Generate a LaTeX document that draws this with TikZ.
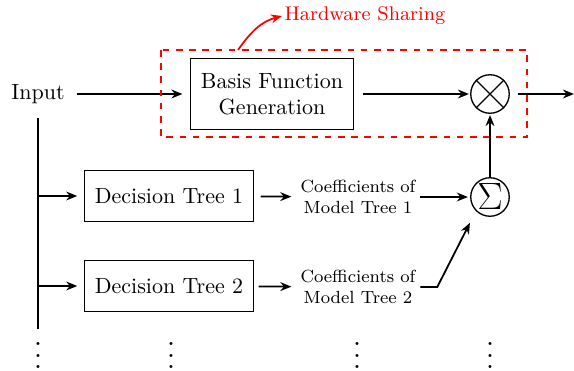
\documentclass[tikz,border=0pt]{standalone}
\usetikzlibrary{arrows.meta,positioning}

\tikzset{
	block/.style={draw, thin, minimum width=77pt, minimum height=23pt, align=center},
	op/.style={draw, semithick, circle, minimum size=17.5pt, inner sep=0pt},
	coef/.style={font=\footnotesize, align=center, inner sep=2pt},
	flow/.style={thick, -{Stealth[length=5pt,width=4pt]}},
}

\begin{document}
\begin{tikzpicture}[x=0.4545pt, y=-0.4545pt]
	\useasboundingbox (0,0) rectangle (574,371);

	% upper path
	\node (in) at (38,94) {Input};
	\node[block, minimum width=74pt, minimum height=32pt] (bfg) at (272,94) {Basis Function\\Generation};
	\node[op] (mul) at (490,94) {};
	\draw[semithick] (mul.north west) -- (mul.south east) (mul.north east) -- (mul.south west);
	\coordinate (out) at (574,94);
	\draw[flow, shorten <=2pt, shorten >=3.5pt] (in) -- (bfg);
	\draw[flow, shorten <=4pt, shorten >=0.5pt] (bfg) -- (mul);
	\draw[flow, shorten <=3.5pt] (mul) -- (out);

	% hardware sharing
	\draw[red, thick, dashed] (161,50) rectangle (527,137);
	\coordinate (hw) at (238,50);
	\node[text=red, font=\small, anchor=west, inner sep=1pt] (hwl) at (282,16) {Hardware Sharing};
	\draw[red, thick, -{Stealth[length=5pt,width=4pt]}] (hw) to[out=55, in=195] (hwl.west);

	% decision trees
	\node[block] (dt1) at (169,196) {Decision Tree 1};
	\node[block] (dt2) at (169,286) {Decision Tree 2};
	\node[coef] (cf1) at (358,197) {Coefficients of\\Model Tree 1};
	\node[coef] (cf2) at (358,287) {Coefficients of\\Model Tree 2};
	\node[op, font=\LARGE] (sig) at (490,197) {$\Sigma$};

	\coordinate (bus) at (38,329);
	\draw[thick, shorten <=3pt] (in.south) -- (bus);
	\draw[flow, shorten >=3pt] (bus |- dt1.west) -- (dt1.west);
	\draw[flow, shorten >=3pt] (bus |- dt2.west) -- (dt2.west);
	\draw[flow, shorten <=3pt, shorten >=2pt] (dt1) -- (cf1);
	\draw[flow, shorten <=2pt, shorten >=2pt] (dt2) -- (cf2);
	\draw[flow, shorten >=1pt] (cf1) -- (sig);
	\draw[flow, shorten >=6pt] (cf2.east) -- ++(17,0) -- (sig.south west);
	\draw[flow, shorten >=0.5pt] (sig) -- (mul);

	% continuation dots
	\foreach \x in {38,171,357,490}
		\node[scale=1.3] at (\x,347) {$\vdots$};
\end{tikzpicture}
\end{document}
